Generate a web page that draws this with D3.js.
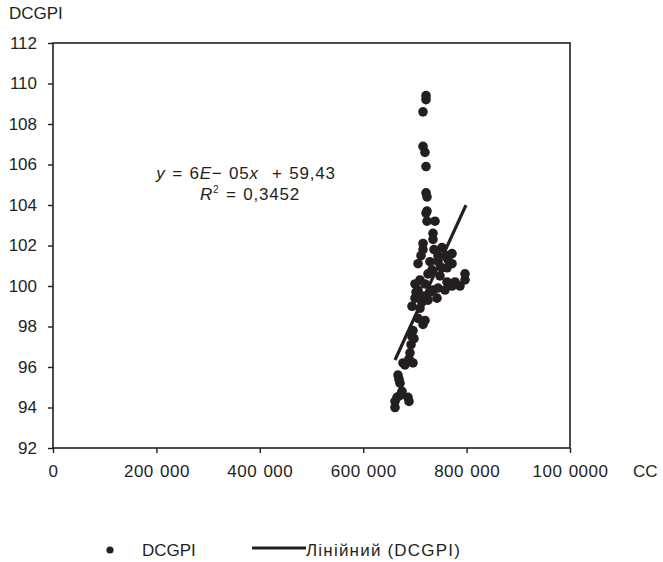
<!DOCTYPE html>
<html>
<head>
<meta charset="utf-8">
<script src="https://cdn.jsdelivr.net/npm/d3@7"></script>
<style>
  body { margin: 0; background: #fff; }
  svg text { font-family: "Liberation Sans", Arial, sans-serif; fill: #231f20; white-space: pre; }
</style>
</head>
<body>
<div id="chart"></div>
<script>
// CC values (x) and DCGPI values (y)
const ccValues = [
  721500, 721500, 715700, 715700, 719500, 721500, 721500, 723400, 723400, 721500,
  723400, 738900, 735000, 735000, 715700, 715700, 737000, 752400, 711800, 760100,
  771800, 729200, 744700, 771800, 762100, 752400, 796900, 796900, 709800, 719500,
  762100, 777600, 787200, 771800, 706000, 735000, 744700, 742700, 715700, 700200,
  725300, 729200, 709800, 706000, 715700, 719500, 696300, 694400, 692500, 690500,
  688600, 676900, 696300, 667300, 671200, 675000, 665400, 686700, 688600, 661500,
  661500, 733100, 725300, 748500, 700200, 702100, 758200, 706000, 744700, 764000,
  713700, 698200, 669200, 671200, 694400, 680800
];
const dcgpiValues = [
  109.4, 109.2, 108.6, 106.9, 106.6, 105.9, 104.6, 104.4, 103.7, 103.6,
  103.2, 103.2, 102.6, 102.3, 102.1, 101.8, 101.8, 101.9, 101.5, 101.5,
  101.6, 101.2, 101.2, 101.1, 100.9, 100.9, 100.6, 100.3, 100.3, 100.1,
  100.2, 100.2, 100.0, 100.0, 99.8, 99.8, 99.9, 99.4, 99.5, 99.4,
  99.3, 99.7, 98.9, 98.4, 98.1, 98.3, 97.8, 97.5, 97.1, 96.7,
  96.4, 96.2, 96.2, 95.6, 95.2, 94.8, 94.5, 94.5, 94.3, 94.3,
  94.0, 100.8, 100.6, 100.5, 100.1, 99.7, 99.8, 101.1, 101.5, 101.3,
  99.2, 97.4, 95.4, 94.6, 99.0, 96.1
];
const trendRange = [661500, 798800];
const trendSlope = 0.0000557;
const trendIntercept = 59.5;

const xTicks = [0, 200000, 400000, 600000, 800000, 1000000];
const xTickLabels = ["0", "200 000", "400 000", "600 000", "800 000", "100 0000"];
const yTicks = [92, 94, 96, 98, 100, 102, 104, 106, 108, 110, 112];

const width = 663, height = 562;
const plot = { left: 53, right: 570, top: 43, bottom: 448 };

const svg = d3.select("#chart").append("svg")
  .attr("width", width)
  .attr("height", height);

const x = d3.scaleLinear().domain([0, 1000000]).range([plot.left, plot.right]);
const y = d3.scaleLinear().domain([92, 112]).range([plot.bottom, plot.top]);

// frame
svg.append("rect")
  .attr("x", plot.left).attr("y", plot.top)
  .attr("width", plot.right - plot.left)
  .attr("height", plot.bottom - plot.top)
  .attr("fill", "none")
  .attr("stroke", "#231f20")
  .attr("stroke-width", 1.6);

// axes
const xAxis = svg.append("g")
  .attr("transform", `translate(0,${plot.bottom})`)
  .call(d3.axisBottom(x).tickValues(xTicks)
    .tickFormat((d, i) => xTickLabels[i]).tickSize(5).tickSizeOuter(0).tickPadding(12));
const yAxis = svg.append("g")
  .attr("transform", `translate(${plot.left},0)`)
  .call(d3.axisLeft(y).tickValues(yTicks).tickSize(5).tickSizeOuter(0).tickPadding(11));

[xAxis, yAxis].forEach(g => {
  g.select(".domain").remove();
  g.selectAll("line").attr("stroke", "#231f20").attr("stroke-width", 1.4);
  g.selectAll("text")
    .style("font-size", "17px")
    .attr("fill", "#231f20")
    .style("font-family", "Liberation Sans, Arial, sans-serif");
});
xAxis.selectAll("text").style("letter-spacing", "0.5px").style("word-spacing", "1px");

svg.append("text").attr("x", 9).attr("y", 19).style("font-size", "17px").text("DCGPI");
svg.append("text").attr("x", 633).attr("y", 477).style("font-size", "17px").text("CC");

// points
const points = ccValues.map((c, i) => ({ cc: c, v: dcgpiValues[i] }));
svg.append("g").selectAll("circle")
  .data(points)
  .join("circle")
  .attr("cx", d => x(d.cc))
  .attr("cy", d => y(d.v))
  .attr("r", 4.8)
  .attr("fill", "#231f20");

// linear trend
svg.append("line")
  .attr("x1", x(trendRange[0]))
  .attr("y1", y(trendSlope * trendRange[0] + trendIntercept))
  .attr("x2", x(trendRange[1]))
  .attr("y2", y(trendSlope * trendRange[1] + trendIntercept))
  .attr("stroke", "#231f20")
  .attr("stroke-width", 3.2);

// equation
const eq = svg.append("text").attr("x", 246).attr("y", 179)
  .attr("text-anchor", "middle")
  .style("font-size", "17px").style("letter-spacing", "0.8px").style("word-spacing", "1px");
eq.append("tspan").style("font-style", "italic").text("y");
eq.append("tspan").text(" = 6");
eq.append("tspan").style("font-style", "italic").text("E");
eq.append("tspan").text("\u2212 05");
eq.append("tspan").style("font-style", "italic").text("x");
eq.append("tspan").text("  + 59,43");

const r2 = svg.append("text").attr("x", 250).attr("y", 200)
  .attr("text-anchor", "middle")
  .style("font-size", "17px").style("letter-spacing", "0.8px").style("word-spacing", "1px");
r2.append("tspan").style("font-style", "italic").text("R");
r2.append("tspan").attr("dy", -7).style("font-size", "10px").text("2");
r2.append("tspan").attr("dy", 7).text(" = 0,3452");

// legend
const legend = svg.append("g").attr("transform", "translate(0,550)");
legend.append("circle").attr("cx", 110).attr("cy", 0).attr("r", 3.6).attr("fill", "#231f20");
legend.append("text").attr("x", 142).attr("y", 6).style("font-size", "17px").text("DCGPI");
legend.append("line").attr("x1", 252).attr("x2", 306).attr("y1", -2).attr("y2", -2)
  .attr("stroke", "#231f20").attr("stroke-width", 3);
legend.append("text").attr("x", 306).attr("y", 6)
  .style("font-size", "17px").style("letter-spacing", "1.2px").text("Лінійний (DCGPI)");
</script>
</body>
</html>
